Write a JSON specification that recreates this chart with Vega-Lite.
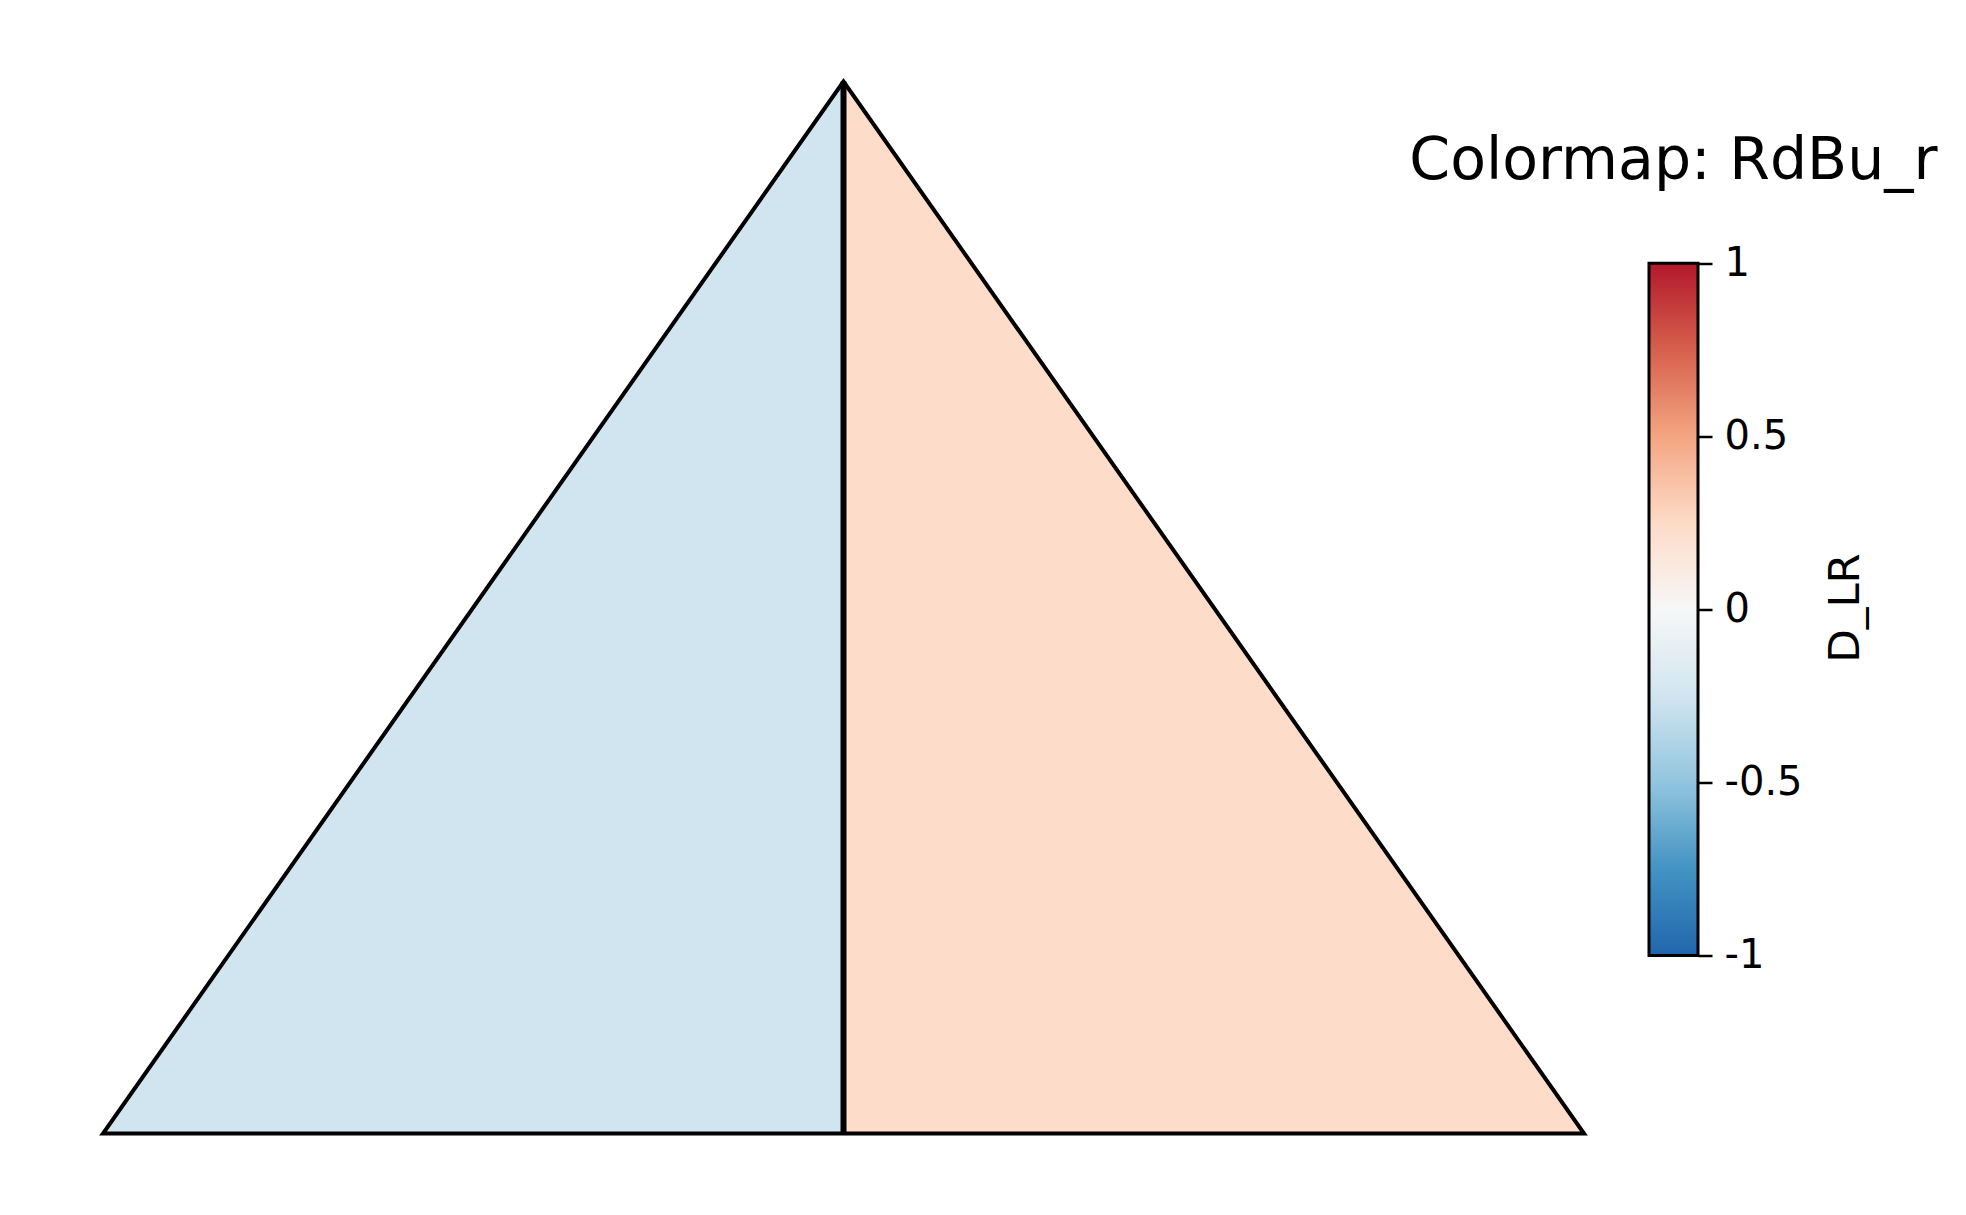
{
  "$schema": "https://vega.github.io/schema/vega-lite/v6.json",
  "background": "white",
  "padding": {"left": 95, "top": 69.5, "right": 0, "bottom": 0},
  "bounds": "flush",
  "spacing": 65,
  "config": {"view": {"stroke": null}, "font": "DejaVu Sans"},
  "datasets": {
    "patches": [
      {"region": "left", "x": 0, "y": 0, "D_LR": -0.25},
      {"region": "left", "x": 0.5, "y": 1, "D_LR": -0.25},
      {"region": "right", "x": 0.5, "y": 1, "D_LR": 0.24},
      {"region": "right", "x": 1, "y": 0, "D_LR": 0.24}
    ],
    "outline": [
      {"order": 1, "x": 0.5, "y": 0},
      {"order": 2, "x": 0, "y": 0},
      {"order": 3, "x": 0.5, "y": 1},
      {"order": 4, "x": 1, "y": 0},
      {"order": 5, "x": 0.5, "y": 0}
    ],
    "divider": [
      {"order": 1, "x": 0.5, "y": 0},
      {"order": 2, "x": 0.5, "y": 1}
    ],
    "range": [{"lo": -1, "hi": 1}]
  },
  "hconcat": [
    {
      "width": 1481,
      "height": 1052,
      "layer": [
        {
          "data": {"name": "patches"},
          "mark": {"type": "area", "opacity": 1, "interpolate": "linear"},
          "encoding": {
            "x": {"field": "x", "type": "quantitative", "scale": {"domain": [0, 1], "nice": false, "zero": false}, "axis": null},
            "y": {"field": "y", "type": "quantitative", "scale": {"domain": [0, 1], "nice": false, "zero": false}, "axis": null},
            "y2": {"datum": 0},
            "detail": {"field": "region"},
            "color": {
              "field": "D_LR",
              "type": "quantitative",
              "scale": {
                "domain": [-1, -0.75, -0.5, -0.25, 0, 0.25, 0.5, 0.75, 1],
                "range": ["#2166ac", "#4393c3", "#92c5de", "#d1e5f0", "#f7f7f7", "#fddbc7", "#f4a582", "#d6604d", "#b2182b"],
                "interpolate": "rgb"
              },
              "legend": null
            }
          }
        },
        {
          "data": {"name": "divider"},
          "mark": {"type": "line", "color": "black", "strokeWidth": 6, "strokeCap": "butt"},
          "encoding": {
            "x": {"field": "x", "type": "quantitative"},
            "y": {"field": "y", "type": "quantitative"},
            "order": {"field": "order"}
          }
        },
        {
          "data": {"name": "outline"},
          "mark": {"type": "line", "color": "black", "strokeWidth": 4, "strokeJoin": "miter", "strokeCap": "butt"},
          "encoding": {
            "x": {"field": "x", "type": "quantitative"},
            "y": {"field": "y", "type": "quantitative"},
            "order": {"field": "order"}
          }
        }
      ]
    },
    {
      "width": 49,
      "height": 1052,
      "title": {
        "text": "Colormap: RdBu_r",
        "fontSize": 58.5,
        "font": "DejaVu Sans",
        "fontWeight": "normal",
        "color": "black",
        "anchor": "middle",
        "baseline": "alphabetic",
        "offset": -156
      },
      "data": {"name": "range"},
      "mark": {
        "type": "rect",
        "stroke": "black",
        "strokeWidth": 3,
        "fill": {
          "gradient": "linear",
          "x1": 0, "y1": 1, "x2": 0, "y2": 0,
          "stops": [
            {"offset": 0, "color": "#2166ac"},
            {"offset": 0.125, "color": "#4393c3"},
            {"offset": 0.25, "color": "#92c5de"},
            {"offset": 0.375, "color": "#d1e5f0"},
            {"offset": 0.5, "color": "#f7f7f7"},
            {"offset": 0.625, "color": "#fddbc7"},
            {"offset": 0.75, "color": "#f4a582"},
            {"offset": 0.875, "color": "#d6604d"},
            {"offset": 1, "color": "#b2182b"}
          ]
        }
      },
      "encoding": {
        "y": {
          "field": "lo",
          "type": "quantitative",
          "scale": {"domain": [-1.5142, 1.5249], "nice": false, "zero": false},
          "axis": {
            "orient": "right",
            "values": [-1, -0.5, 0, 0.5, 1],
            "domain": false,
            "grid": false,
            "ticks": true,
            "tickSize": 14,
            "tickWidth": 2.5,
            "tickColor": "black",
            "labelFontSize": 40,
            "labelFont": "DejaVu Sans",
            "labelColor": "black",
            "labelPadding": 12,
            "labelOverlap": false,
            "labelExpr": "toString(datum.value)",
            "title": "D_LR",
            "titleAngle": 270,
            "titleBaseline": "top",
            "titleFontSize": 43.5,
            "titleFont": "DejaVu Sans",
            "titleFontWeight": "normal",
            "titleColor": "black",
            "titlePadding": 22
          }
        },
        "y2": {"field": "hi"}
      }
    }
  ]
}
